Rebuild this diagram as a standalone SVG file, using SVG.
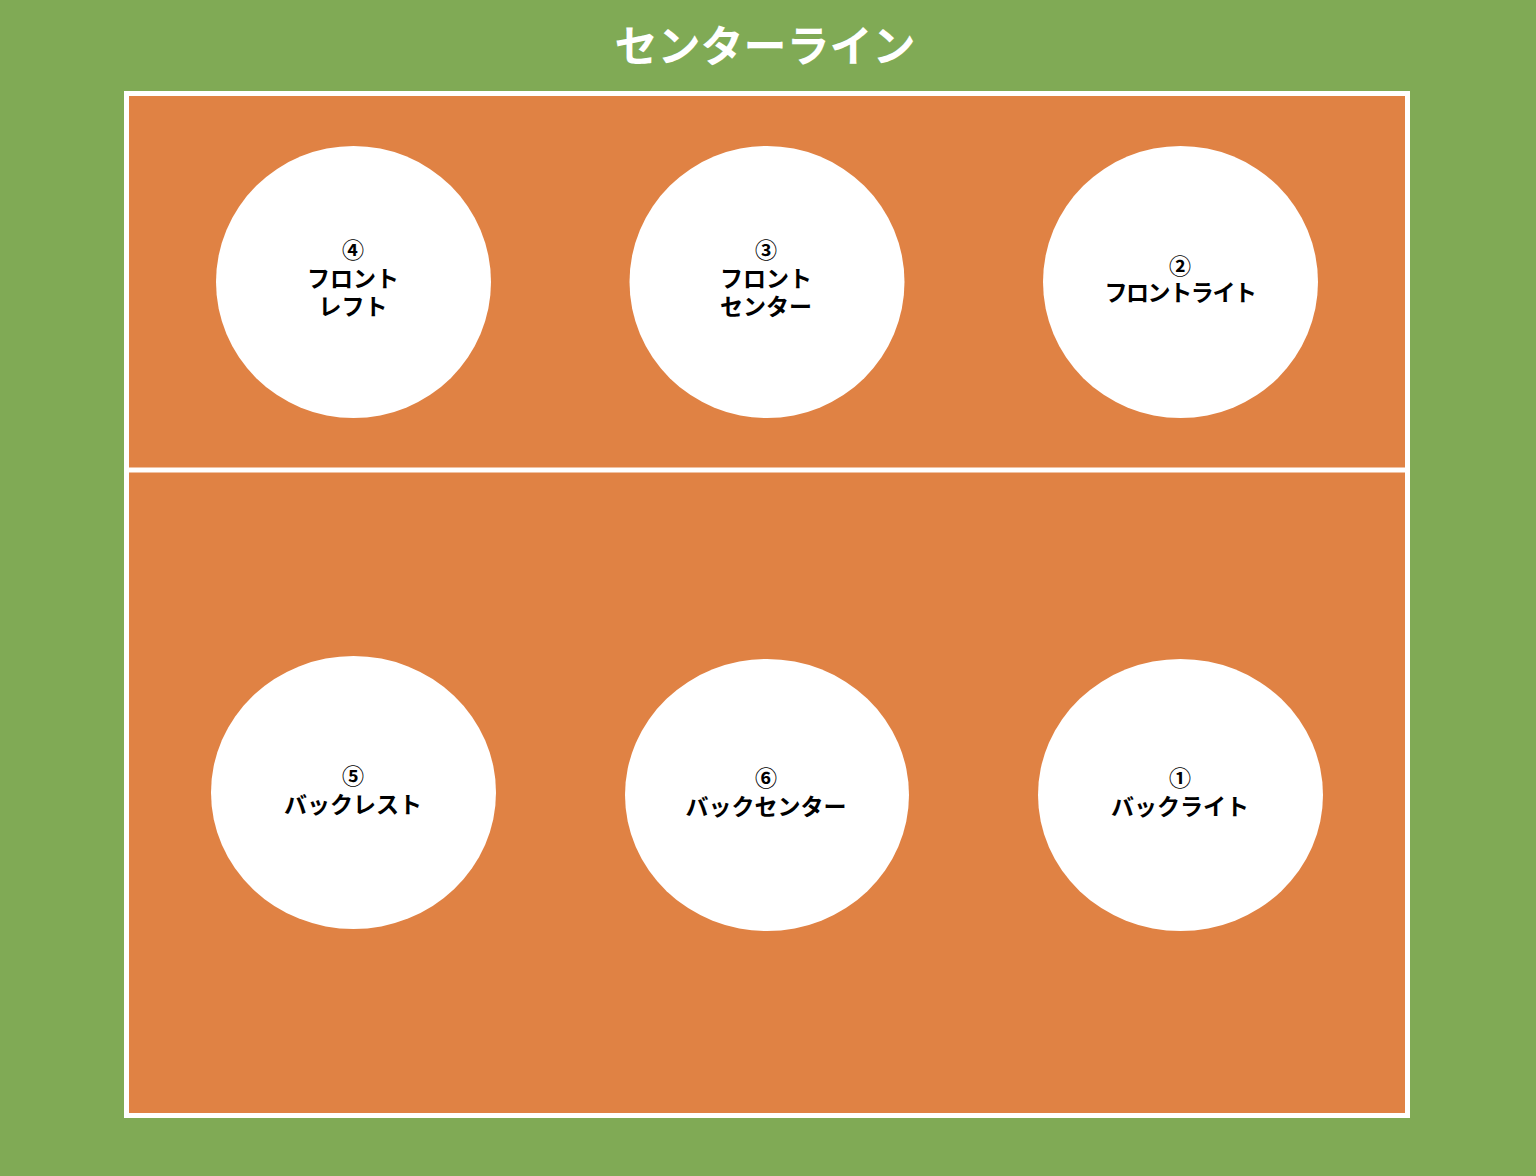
<svg xmlns="http://www.w3.org/2000/svg" width="1536" height="1176" viewBox="0 0 1536 1176">
<style>
.lbl{font-family:"Noto Sans CJK JP","Noto Sans",sans-serif;font-weight:bold;font-size:23px;fill:#000;text-anchor:middle}
.num{font-size:22px}
.tight{letter-spacing:-1.4px}
.pos{fill:#fff}
.title{font-family:"Noto Sans CJK JP","Noto Sans",sans-serif;font-weight:bold;font-size:43px;fill:#fff;text-anchor:middle}
</style>
<rect x="0" y="0" width="1536" height="1176" fill="#80AA55"/>
<g id="court">
<rect x="126.5" y="93.5" width="1281" height="1022" fill="#E08244" stroke="#fff" stroke-width="5"/>
<line x1="129" y1="470" x2="1405" y2="470" stroke="#fff" stroke-width="5"/>
</g>
<text id="title" class="title" x="765" y="62">センターライン</text>
<g id="p4"><ellipse class="pos" cx="353.5" cy="282" rx="137.5" ry="136"/>
<text class="lbl num" x="353" y="258">④</text><text class="lbl" x="353" y="287">フロント</text><text class="lbl" x="353" y="315">レフト</text></g>
<g id="p3"><ellipse class="pos" cx="767" cy="282" rx="137.5" ry="136"/>
<text class="lbl num" x="766" y="258">③</text><text class="lbl" x="766" y="287">フロント</text><text class="lbl" x="766" y="315">センター</text></g>
<g id="p2"><ellipse class="pos" cx="1180.5" cy="282" rx="137.5" ry="136"/>
<text class="lbl num" x="1180" y="274">②</text><text class="lbl tight" x="1180" y="301">フロントライト</text></g>
<g id="p5"><ellipse class="pos" cx="353.5" cy="792.5" rx="142.5" ry="136.5"/>
<text class="lbl num" x="353" y="784">⑤</text><text class="lbl" x="353" y="813">バックレスト</text></g>
<g id="p6"><ellipse class="pos" cx="767" cy="795" rx="142" ry="136"/>
<text class="lbl num" x="766" y="786">⑥</text><text class="lbl" x="766" y="815">バックセンター</text></g>
<g id="p1"><ellipse class="pos" cx="1180.5" cy="795" rx="142.5" ry="136"/>
<text class="lbl num" x="1180" y="786">①</text><text class="lbl" x="1180" y="815">バックライト</text></g>
<g id="connectors"/>
</svg>
